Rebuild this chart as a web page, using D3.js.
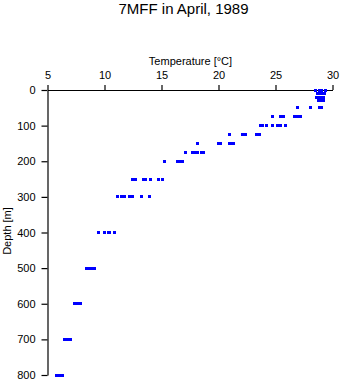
<!DOCTYPE html>
<html>
<head>
<meta charset="utf-8">
<script src="https://cdn.jsdelivr.net/npm/d3@7"></script>
<style>
  html, body { margin: 0; padding: 0; background: #fff; }
  svg { display: block; font-family: "Liberation Sans", Arial, Helvetica, sans-serif; }
</style>
</head>
<body>
<svg id="chart" width="341" height="384"></svg>
<script>
// ---- data ----
const titleText = "7MFF in April, 1989";
const xLabel = "Temperature [\u00B0C]";
const yLabel = "Depth [m]";
const xTicks = [5, 10, 15, 20, 25, 30];
const yTicks = [0, 100, 200, 300, 400, 500, 600, 700, 800];

const depthLevels = [0, 10, 20, 30, 50, 75, 100, 125, 150, 175, 200, 250, 300, 400, 500, 600, 700, 800];
const temperatures = [
  [28.5, 28.9, 29.0, 29.35],
  [28.65, 28.8, 28.95, 29.1, 29.3],
  [28.6, 28.75, 28.9, 29.05, 29.2],
  [28.75, 28.9, 29.05, 29.2],
  [26.93, 28.11, 28.88, 29.05],
  [24.75, 25.43, 25.74, 26.71, 26.9, 27.1, 27.19],
  [23.7, 23.85, 24.23, 24.75, 25.15, 25.43, 25.85],
  [21.0, 22.12, 22.34, 23.35, 23.57],
  [18.18, 20.02, 20.15, 20.98, 21.1, 21.33],
  [17.1, 17.74, 17.9, 18.18, 18.53, 18.7],
  [15.28, 16.42, 16.64, 16.86],
  [12.47, 12.74, 13.44, 13.61, 14.05, 14.75, 15.06],
  [11.16, 11.5, 11.77, 12.21, 12.43, 13.26, 13.92],
  [9.49, 10.02, 10.37, 10.46, 10.9],
  [8.44, 8.6, 8.8, 9.0, 9.14],
  [7.39, 7.6, 7.75, 7.91],
  [6.51, 6.7, 6.85, 7.04],
  [5.8, 6.0, 6.15, 6.33]
];

// ---- chart ----
const svg = d3.select("#chart");
const x = d3.scaleLinear().domain([5, 30]).range([47.5, 332.5]);
const y = d3.scaleLinear().domain([0, 800]).range([90, 375]);

const points = [];
depthLevels.forEach((d, i) => temperatures[i].forEach(t => points.push({ t, d })));

svg.append("text")
  .attr("x", 183.5).attr("y", 13.5)
  .attr("text-anchor", "middle")
  .attr("font-size", 15)
  .text(titleText);

svg.append("text")
  .attr("x", 190.5).attr("y", 64.5)
  .attr("text-anchor", "middle")
  .attr("font-size", 11)
  .text(xLabel);

svg.append("text")
  .attr("transform", "translate(10.5,231) rotate(-90)")
  .attr("text-anchor", "middle")
  .attr("font-size", 11)
  .text(yLabel);

const xAxis = svg.append("g")
  .attr("transform", "translate(0,90)")
  .call(d3.axisTop(x).tickValues(xTicks).tickSize(5).tickSizeOuter(0).tickPadding(6).tickFormat(d3.format("d")));

const yAxis = svg.append("g")
  .attr("transform", "translate(47.5,0)")
  .call(d3.axisLeft(y).tickValues(yTicks).tickSize(6).tickSizeOuter(0).tickPadding(6).tickFormat(d3.format("d")));

[xAxis, yAxis].forEach(g => {
  g.selectAll("text").attr("font-size", 11).attr("font-family", "Liberation Sans, Arial, sans-serif").attr("fill", "#000");
  g.selectAll("line, path").attr("stroke", "#000").attr("stroke-width", 1.2);
});

svg.append("g")
  .attr("fill", "#0000ff")
  .attr("shape-rendering", "crispEdges")
  .selectAll("rect")
  .data(points)
  .join("rect")
  .attr("x", p => x(p.t) - 1.5)
  .attr("y", p => y(p.d) - 1.5)
  .attr("width", 3)
  .attr("height", 3);
</script>
</body>
</html>
